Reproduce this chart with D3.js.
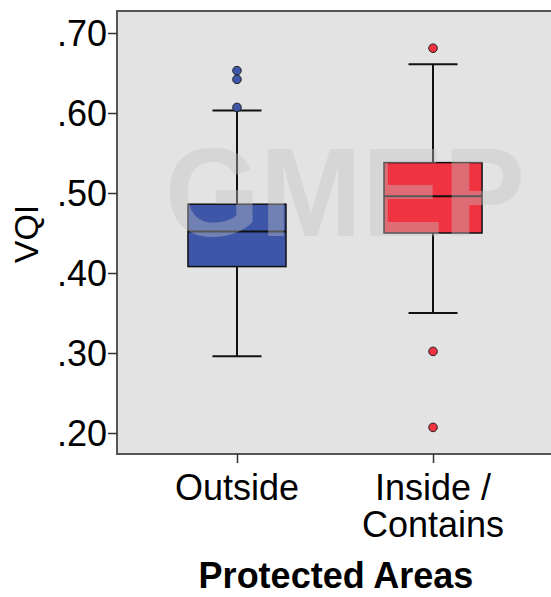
<!DOCTYPE html>
<html lang="en">
<head>
    <meta charset="UTF-8">
    <title>VQI by Protected Areas</title>
    <script src="https://cdn.jsdelivr.net/npm/d3@7/dist/d3.min.js"></script>
    <style>
        body { margin: 0; background: #fff; }
        svg { display: block; }
        text { font-family: Arial, "Liberation Sans", sans-serif; fill: #000; }
    </style>
</head>
<body>
<script>
    // 画布大小
    const width = 551;
    const height = 597;

    // 数据
    const categories = ['Outside', 'Inside / Contains'];
    const whiskerLow = [0.296, 0.350];
    const q1 = [0.408, 0.450];
    const median = [0.452, 0.496];
    const q3 = [0.486, 0.538];
    const whiskerHigh = [0.603, 0.661];
    const outliers = [[0.653, 0.642, 0.607], [0.681, 0.302, 0.207]];
    const yTicks = [0.20, 0.30, 0.40, 0.50, 0.60, 0.70];
    const boxColors = ['#3d56a8', '#ef3340'];

    const plot = { left: 117, top: 11, right: 553, bottom: 454 };

    let svg = d3.select('body')
        .append('svg')
        .attr('width', width)
        .attr('height', height);

    let x = d3.scalePoint()
        .domain(categories)
        .range([plot.left, plot.right])
        .padding(0.612);

    let y = d3.scaleLinear()
        .domain([0.17375, 0.7275])
        .range([plot.bottom, plot.top]);

    const step = x.step();
    const boxW = step * 0.5;
    const capW = step * 0.25;

    // 背景
    svg.append('rect')
        .attr('x', plot.left)
        .attr('y', plot.top)
        .attr('width', plot.right - plot.left)
        .attr('height', plot.bottom - plot.top)
        .attr('fill', '#e3e3e3');

    let boxes = svg.append('g')
        .selectAll('g')
        .data(categories)
        .enter()
        .append('g');

    // 须线
    boxes.append('line')
        .attr('x1', d => x(d))
        .attr('x2', d => x(d))
        .attr('y1', (d, i) => y(whiskerLow[i]))
        .attr('y2', (d, i) => y(whiskerHigh[i]))
        .attr('stroke', '#111')
        .attr('stroke-width', 2);

    boxes.append('line')
        .attr('x1', d => x(d) - capW / 2)
        .attr('x2', d => x(d) + capW / 2)
        .attr('y1', (d, i) => y(whiskerHigh[i]))
        .attr('y2', (d, i) => y(whiskerHigh[i]))
        .attr('stroke', '#111')
        .attr('stroke-width', 2);

    boxes.append('line')
        .attr('x1', d => x(d) - capW / 2)
        .attr('x2', d => x(d) + capW / 2)
        .attr('y1', (d, i) => y(whiskerLow[i]))
        .attr('y2', (d, i) => y(whiskerLow[i]))
        .attr('stroke', '#111')
        .attr('stroke-width', 2);

    // 箱体
    boxes.append('rect')
        .attr('x', d => x(d) - boxW / 2)
        .attr('y', (d, i) => y(q3[i]))
        .attr('width', boxW)
        .attr('height', (d, i) => y(q1[i]) - y(q3[i]))
        .attr('fill', (d, i) => boxColors[i])
        .attr('stroke', '#111')
        .attr('stroke-width', 1.5);

    boxes.append('line')
        .attr('x1', d => x(d) - boxW / 2)
        .attr('x2', d => x(d) + boxW / 2)
        .attr('y1', (d, i) => y(median[i]))
        .attr('y2', (d, i) => y(median[i]))
        .attr('stroke', '#111')
        .attr('stroke-width', 2);

    // 离群点
    boxes.selectAll('circle')
        .data((d, i) => outliers[i].map(v => ({ cat: d, v: v, i: i })))
        .enter()
        .append('circle')
        .attr('cx', d => x(d.cat))
        .attr('cy', d => y(d.v))
        .attr('r', 4.3)
        .attr('fill', d => boxColors[d.i])
        .attr('stroke', '#222')
        .attr('stroke-width', 1);

    // 水印
    svg.append('text')
        .attr('x', 165)
        .attr('y', 236)
        .attr('textLength', 360)
        .attr('lengthAdjust', 'spacingAndGlyphs')
        .style('font-size', '126px')
        .style('font-weight', 'bold')
        .style('fill', '#c4c4c4')
        .style('fill-opacity', 0.4)
        .text('GMEP');

    // 边框
    svg.append('path')
        .attr('d', 'M' + plot.right + ',' + plot.top + ' H' + plot.left + ' V' + plot.bottom + ' H' + plot.right)
        .attr('fill', 'none')
        .attr('stroke', '#555')
        .attr('stroke-width', 2);

    // Y 轴
    let yAxis = svg.append('g')
        .attr('transform', 'translate(' + plot.left + ',0)')
        .call(d3.axisLeft(y)
            .tickValues(yTicks)
            .tickSize(9)
            .tickPadding(1)
            .tickFormat(d => d3.format('.2f')(d).replace(/^0/, '')));
    yAxis.select('.domain').remove();
    yAxis.selectAll('line').attr('stroke', '#333').attr('stroke-width', 1.5);
    yAxis.selectAll('text')
        .style('font-size', '36px')
        .attr('dy', '0.35em')
        .attr('fill', '#000');

    // X 轴
    let xAxis = svg.append('g')
        .attr('transform', 'translate(0,' + plot.bottom + ')')
        .call(d3.axisBottom(x).tickSize(9).tickFormat(''));
    xAxis.select('.domain').remove();
    xAxis.selectAll('line').attr('stroke', '#333').attr('stroke-width', 1.5);

    let catLabels = svg.append('g')
        .selectAll('text')
        .data(categories)
        .enter()
        .append('text')
        .attr('text-anchor', 'middle')
        .attr('y', 500)
        .style('font-size', '36px');

    catLabels.each(function (d) {
        const parts = d.split(' / ');
        const t = d3.select(this);
        if (parts.length === 1) {
            t.append('tspan').attr('x', x(d)).text(d);
        } else {
            t.append('tspan').attr('x', x(d)).text(parts[0] + ' /');
            t.append('tspan').attr('x', x(d)).attr('dy', 37).text(parts[1]);
        }
    });

    // 轴标题
    svg.append('text')
        .attr('x', 336)
        .attr('y', 588)
        .attr('text-anchor', 'middle')
        .style('font-size', '36px')
        .style('font-weight', 'bold')
        .text('Protected Areas');

    svg.append('text')
        .attr('transform', 'translate(38,234) rotate(-90)')
        .attr('text-anchor', 'middle')
        .style('font-size', '34px')
        .text('VQI');
</script>
</body>
</html>
